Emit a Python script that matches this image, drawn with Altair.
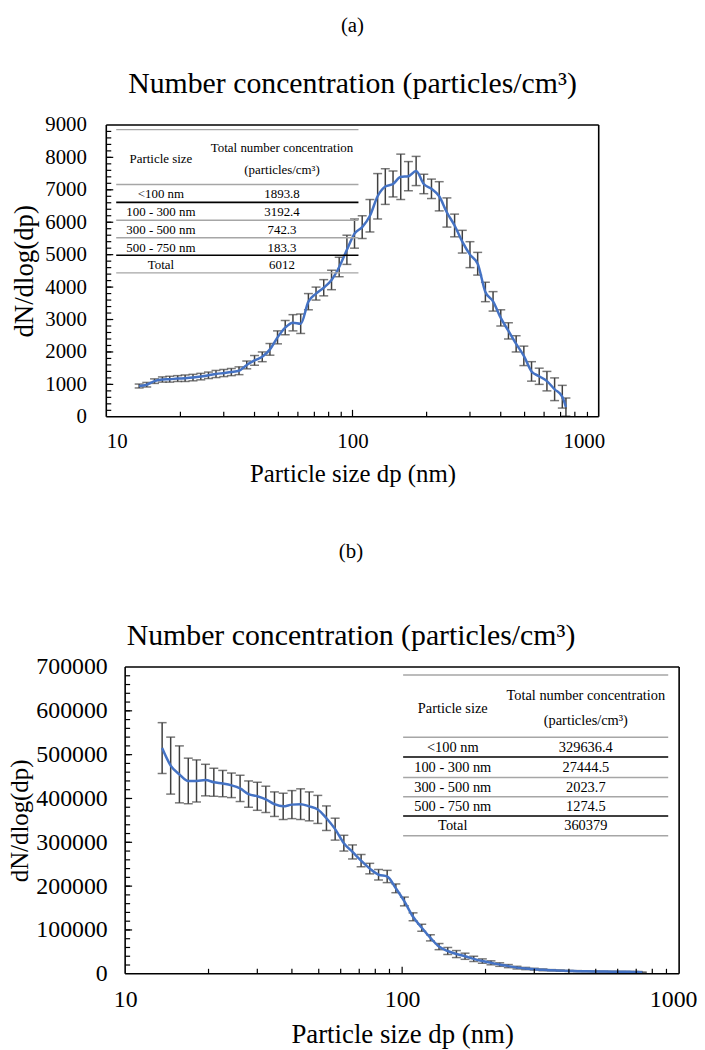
import altair as alt
import pandas as pd

# particle diameters (nm)
sizes = [13.6, 14.6, 15.7, 16.9, 18.1, 19.5, 20.9, 22.5, 24.2, 26.0,
         27.9, 30.0, 32.2, 34.6, 37.2, 40.0, 43.0, 46.2, 49.6, 53.3,
         57.3, 61.6, 66.2, 71.1, 76.4, 82.2, 88.3, 94.9, 101.9, 109.5,
         117.7, 126.5, 135.9, 146.1, 157.0, 168.7, 181.3, 194.8, 209.3, 225.0,
         241.8, 259.8, 279.2, 300.0, 322.4, 346.5, 372.3, 400.1, 429.9, 462.0,
         496.5, 533.5, 573.3, 616.1, 662.0, 711.4, 736.0]

# (a) dN/dlog(dp) and error (half range)
vals_a = [950, 990, 1100, 1150, 1160, 1180, 1190, 1210, 1240, 1280,
          1320, 1350, 1380, 1420, 1600, 1740, 1850, 2080, 2450, 2750,
          2900, 2870, 3550, 3800, 3980, 4220, 4620, 5150, 5650, 5850,
          6200, 6800, 7100, 7180, 7400, 7420, 7580, 7180, 7030, 6800,
          6300, 5900, 5400, 5000, 4720, 3850, 3560, 3050, 2650, 2250,
          1880, 1400, 1250, 1100, 850, 620, 300]
errs_a = [60, 70, 70, 80, 90, 90, 100, 100, 100, 100,
          110, 110, 110, 120, 120, 150, 150, 180, 200, 220,
          250, 300, 250, 200, 250, 300, 300, 450, 450, 350,
          500, 700, 550, 400, 700, 450, 450, 300, 300, 450,
          450, 350, 350, 400, 350, 300, 300, 250, 250, 250,
          300, 300, 250, 300, 350, 350, 280]

# (b)
vals_b = [515000, 475000, 455000, 440000, 440000, 442000, 437000, 434000, 430000, 423000,
          410000, 405000, 398000, 387000, 382000, 386000, 387000, 382000, 375000, 355000,
          330000, 298000, 278000, 258000, 240000, 226000, 222000, 195000, 165000, 130000,
          105000, 82000, 62000, 52000, 45000, 40000, 34000, 29000, 25000, 21000,
          17500, 14000, 12000, 10500, 9000, 8000, 7200, 6500, 6000, 5500,
          5200, 5000, 4800, 4600, 4400, 4200, 3000]
errs_b = [58000, 65000, 65000, 52000, 48000, 36000, 32000, 30000, 28000, 30000,
          30000, 32000, 30000, 28000, 30000, 32000, 35000, 33000, 32000, 28000,
          25000, 18000, 16000, 14000, 12000, 12000, 14000, 10000, 10000, 9000,
          8000, 7000, 7000, 8000, 8000, 7000, 6000, 5000, 4500, 4000,
          3500, 3000, 2500, 2000, 2000, 1500, 1500, 1200, 1200, 1000,
          1000, 1000, 1000, 1000, 1000, 1000, 1000]

# inset tables
row_labels = ["<100 nm", "100 - 300 nm", "300 - 500 nm", "500 - 750 nm", "Total"]
table_a = ["1893.8", "3192.4", "742.3", "183.3", "6012"]
table_b = ["329636.4", "27444.5", "2023.7", "1274.5", "360379"]

x_labels = [10, 100, 1000]
x_minor = [20, 30, 40, 50, 60, 70, 80, 90, 200, 300, 400, 500, 600, 700, 800, 900]

FONT = "Liberation Serif"
GRAY = "#a6a6a6"


def panel(vals, errs, ymax, ystep, yminor, W, H, shift, tick_fs, xtick_fs, title_fs,
          yt_fs, xt_fs, letter, dx, flush, last_off, lab_pad, ytitle_pad,
          sub_pad, t_off, table_vals, tg):
    df = pd.DataFrame({"dp": sizes, "v": vals,
                       "lo": [v - e for v, e in zip(vals, errs)],
                       "hi": [v + e for v, e in zip(vals, errs)]})
    xs = alt.Scale(type="log", domain=[10, 1000], range=[shift, shift + W])
    ys = alt.Scale(domain=[0, ymax], nice=False, zero=True)
    xa = alt.Axis(values=x_labels, format="d", title="Particle size dp (nm)",
                  labelFontSize=xtick_fs, titleFontSize=xt_fs,
                  labelPadding=14, titlePadding=10, labelFlush=flush,
                  labelOffset=alt.condition("datum.value >= 1000", alt.value(last_off), alt.value(0)),
                  titleX=shift + W / 2)
    ya = alt.Axis(values=list(range(0, ymax + 1, ystep)), format="d",
                  title="dN/dlog(dp)", labelFontSize=tick_fs,
                  titleFontSize=yt_fs, labelPadding=lab_pad,
                  titlePadding=ytitle_pad)

    err = alt.Chart(df).mark_errorbar(ticks=True, size=9, thickness=1.5,
                                      color="#404040").encode(
        x=alt.X("dp:Q", scale=xs, axis=xa),
        y=alt.Y("lo:Q", scale=ys, axis=ya),
        y2="hi:Q")

    line = alt.Chart(df).mark_line(color="#4472C4", strokeWidth=2.5,
                                   interpolate="monotone").encode(
        x=alt.X("dp:Q", scale=xs, axis=xa),
        y=alt.Y("v:Q", scale=ys, axis=ya))

    layers = [err, line]

    # inward ticks
    xt = pd.DataFrame({"t": x_minor})
    layers.append(alt.Chart(xt).mark_rule(color="black", strokeWidth=1.2).encode(
        x=alt.X("t:Q", scale=xs, axis=xa), y=alt.value(H), y2=alt.value(H - 5)))
    layers.append(alt.Chart(pd.DataFrame({"t": [100]})).mark_rule(color="black", strokeWidth=1.2).encode(
        x=alt.X("t:Q", scale=xs, axis=xa), y=alt.value(H), y2=alt.value(H - 7)))
    ymin_df = pd.DataFrame({"t": list(range(yminor, ymax, yminor))})
    layers.append(alt.Chart(ymin_df).mark_rule(color="black", strokeWidth=1.2).encode(
        y=alt.Y("t:Q", scale=ys, axis=ya), x=alt.value(shift), x2=alt.value(shift + 5)))
    ymaj_df = pd.DataFrame({"t": list(range(ystep, ymax, ystep))})
    layers.append(alt.Chart(ymaj_df).mark_rule(color="black", strokeWidth=1.2).encode(
        y=alt.Y("t:Q", scale=ys, axis=ya), x=alt.value(shift), x2=alt.value(shift + 7)))

    one = pd.DataFrame({"k": [0]})
    # plot frame
    fr = dict(color="black", strokeWidth=1.6)
    layers.append(alt.Chart(one).mark_rule(**fr).encode(
        x=alt.value(shift), x2=alt.value(shift + W), y=alt.value(0)))
    layers.append(alt.Chart(one).mark_rule(**fr).encode(
        x=alt.value(shift), x2=alt.value(shift + W), y=alt.value(H)))
    layers.append(alt.Chart(one).mark_rule(**fr).encode(
        x=alt.value(shift), y=alt.value(0), y2=alt.value(H)))
    layers.append(alt.Chart(one).mark_rule(**fr).encode(
        x=alt.value(shift + W), y=alt.value(0), y2=alt.value(H)))

    # table
    for yy, col in zip(tg["lines"], [GRAY, GRAY, "black", GRAY, GRAY, "black", GRAY]):
        layers.append(alt.Chart(one).mark_rule(color=col, strokeWidth=1.6 if col == "black" else 1.4).encode(
            x=alt.value(shift + tg["x1"]), x2=alt.value(shift + tg["x2"]), y=alt.value(yy)))
    txt = dict(font=FONT, fontSize=tg["fs"], color="black", align="center", baseline="middle")
    layers.append(alt.Chart(one).mark_text(text="Particle size", **txt).encode(
        x=alt.value(shift + tg["c1"]), y=alt.value(tg["hy"])))
    layers.append(alt.Chart(one).mark_text(text="Total number concentration", **txt).encode(
        x=alt.value(shift + tg["c2"]), y=alt.value(tg["hy1"])))
    layers.append(alt.Chart(one).mark_text(text="(particles/cm³)", **txt).encode(
        x=alt.value(shift + tg["c2"]), y=alt.value(tg["hy2"])))
    for i, (lab, val) in enumerate(zip(row_labels, table_vals)):
        layers.append(alt.Chart(one).mark_text(text=lab, **txt).encode(
            x=alt.value(shift + tg["c1"]), y=alt.value(tg["rows"][i])))
        layers.append(alt.Chart(one).mark_text(text=val, **txt).encode(
            x=alt.value(shift + tg["c2"]), y=alt.value(tg["rows"][i])))

    return alt.layer(*layers).properties(
        width=W + shift, height=H,
        title=alt.TitleParams(text=letter, subtitle="Number concentration (particles/cm³)",
                              font=FONT, subtitleFont=FONT, fontSize=21,
                              subtitleFontSize=title_fs, fontWeight="normal",
                              color="black", subtitleColor="black",
                              subtitlePadding=sub_pad, offset=t_off,
                              anchor="middle", dx=dx))


tg_a = dict(lines=[4.7, 60, 78, 96, 113.7, 131.3, 149], x1=10, x2=254, fs=13,
            c1=55, c2=177, hy=34, hy1=23, hy2=45, rows=[70, 88, 106, 123.5, 141])
tg_b = dict(lines=[8, 70.7, 90.7, 111.3, 130.7, 150, 170], x1=280, x2=547, fs=14.5,
            c1=330, c2=464, hy=42, hy1=29, hy2=54, rows=[81.5, 101.5, 121.5, 141, 160.5])

# args: vals, errs, ymax, ystep, yminor, W, H, shift, tick_fs, xtick_fs, title_fs, yt_fs, xt_fs,
#       letter, dx, flush, last_off, lab_pad, ytitle_pad, sub_pad, t_off
ca = panel(vals_a, errs_a, 9000, 1000, 200, 496, 294, 0, 21, 21, 30, 27, 25,
           "(a)", 0, True, 6, 20, 6, 34, 15, table_a, tg_a)
cb = panel(vals_b, errs_b, 700000, 100000, 20000, 558, 309, 19, 24, 24, 30, 25, 27,
           "(b)", -42, False, -6, -1, 3, 60, 4, table_b, tg_b)

chart = alt.vconcat(ca, cb, spacing=55).properties(
    padding={"left": 0, "top": 3, "right": 0, "bottom": 0}
).configure_view(stroke=None).configure_axis(
    labelFont=FONT, titleFont=FONT, labelColor="black", titleColor="black",
    titleFontWeight="normal", grid=False, domain=False, ticks=False, tickSize=0
)

chart.save("out.html", embed_options={"renderer": "svg", "actions": False})
